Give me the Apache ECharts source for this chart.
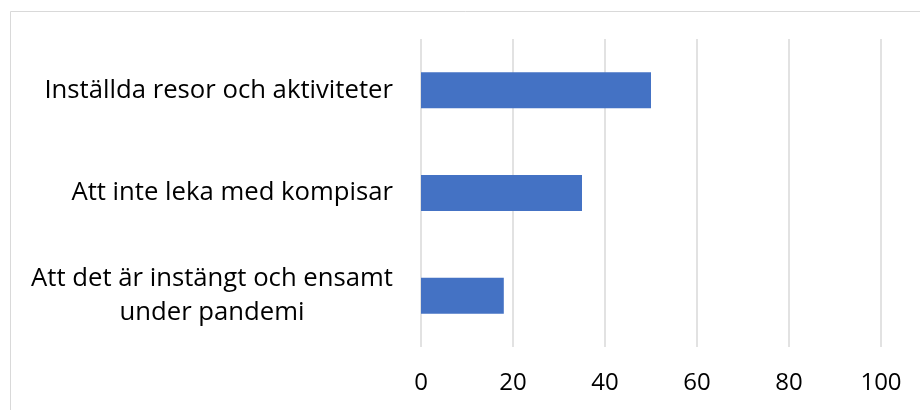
<!DOCTYPE html>
<html>
<head>
<meta charset="utf-8">
<script src="https://cdn.jsdelivr.net/npm/echarts@6/dist/echarts.min.js"></script>
<style>
html,body{margin:0;padding:0;background:#fff;}
#c{width:920px;height:410px;}
</style>
</head>
<body>
<div id="c"></div>
<script>
var categories = ["Inställda resor och aktiviteter", "Att inte leka med kompisar", "Att det är instängt och ensamt\nunder pandemi"];
var values = [50, 35, 18];
var xTicks = [0, 20, 40, 60, 80, 100];

var FONT = '"Open Sans", sans-serif';
var FS = 25.7;
var XFS = 24;
var LH = 34;
var ctx = document.createElement('canvas').getContext('2d');
ctx.font = FS + 'px "Open Sans"';
function lineW(s){ return Math.ceil(ctx.measureText(s).width); }

var chart = echarts.init(document.getElementById('c'), null, {renderer:'canvas'});
chart.setOption({
  animation: false,
  backgroundColor: '#fff',
  graphic: [{
    type: 'rect', left: 8, top: 9, shape: {x:0, y:0, width: 930, height: 420},
    style: {fill: 'none', stroke: '#d9d9d9', lineWidth: 1}, silent: true
  }],
  grid: {left: 421, right: 39, top: 39, bottom: 63, containLabel: false},
  xAxis: {
    type: 'value', min: xTicks[0], max: xTicks[xTicks.length-1], interval: xTicks[1]-xTicks[0],
    axisLine: {show: false}, axisTick: {show: false},
    splitLine: {show: true, lineStyle: {color: '#d9d9d9', width: 1.5}},
    axisLabel: {color: '#000', fontFamily: FONT, fontSize: XFS, margin: 24}
  },
  yAxis: {
    type: 'category', data: categories, inverse: true,
    axisLine: {show: false}, axisTick: {show: false},
    axisLabel: {
      color: '#000', fontFamily: FONT, fontSize: FS, margin: 28, lineHeight: LH,
      formatter: function(v){
        var lines = v.split('\n');
        if (lines.length === 1) return v;
        return lines.map(function(l){ return '{m|' + l + '}'; }).join('\n');
      },
      rich: {m: {width: Math.max(lineW('Att det är instängt och ensamt'), lineW('under pandemi')), align: 'center', fontFamily: FONT, fontSize: FS, color: '#000', lineHeight: LH}}
    }
  },
  series: [{
    type: 'bar', data: values, barWidth: 36,
    itemStyle: {color: '#4472C4'}
  }]
});
</script>
</body>
</html>
